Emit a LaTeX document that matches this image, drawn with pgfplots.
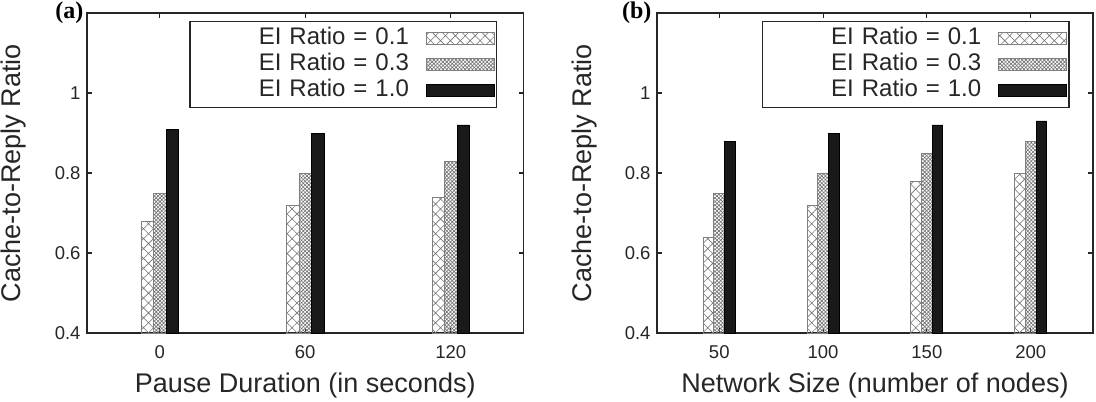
\documentclass[border=0pt]{standalone}
\usepackage{fontspec}
\setmainfont{Liberation Sans}
\newfontfamily\panelfont{Liberation Serif}
\usepackage{pgfplots}
\pgfplotsset{compat=1.18}
\usetikzlibrary{patterns.meta}

\newcommand\tickfont{\fontsize{18.5bp}{22bp}\selectfont}
\newcommand\labfont{\fontsize{27bp}{32bp}\selectfont}
\newcommand\legfont{\fontsize{24bp}{28bp}\selectfont}

\pgfplotsset{
  crpanel/.style={
    ybar=0pt,
    y=400bp, ymin=0.4, ymax=1.2,
    ytick={0.4,0.6,0.8,1}, yticklabels={0.4,0.6,0.8,1},
    xtick=data,
    tick align=inside,
    major tick length=5bp,
    axis line style={line width=1.5bp, black!85},
    every tick/.style={line width=1.1bp, black!85},
    tick label style={font=\tickfont, text=black!85},
    yticklabel style={xshift=-3bp},
    xticklabel style={yshift=-9bp},
    label style={font=\labfont, text=black!85},
    ylabel={Cache-to-Reply Ratio},
    ylabel style={at={(axis description cs:-0.1674,0.5)}, anchor=center},
    xlabel style={at={(axis description cs:0.5,-0.164)}, anchor=center},
    legend cell align=right,
    legend plot pos=right,
    legend style={font=\legfont, text=black!85, draw=black!85, line width=1.4bp,
      inner xsep=2bp, inner ysep=6bp, column sep=17bp, row sep=4bp,
      nodes={inner sep=0bp, text height=17bp, text depth=5bp, text width=217bp, align=right}},
    clip=false,
  },
  barkey/.style={legend image code/.code={\draw[##1] (0bp,-6bp) rectangle (68bp,6bp);}},
  ei01/.style={draw=gray, line width=0.9bp, fill=white,
    pattern={Hatch[angle=45,distance=7bp,line width=0.6bp]}, pattern color=gray!90!black, barkey},
  ei03/.style={draw=gray, line width=0.9bp, fill=white,
    pattern={Hatch[angle=45,distance=2.6bp,line width=0.65bp]}, pattern color=gray!90!black, barkey},
  ei10/.style={draw=black, line width=0.9bp, fill=black!90, barkey},
}

\begin{document}
\begin{tikzpicture}
\path[use as bounding box] (0bp,0bp) rectangle (1096bp,-402bp);

% (a) effect of pause duration
\begin{axis}[crpanel,
  at={(87bp,-333bp)}, anchor=south west,
  x=145.5bp, xmin=-0.5, xmax=2.5,
  bar width=12.5bp,
  xticklabels={0,60,120},
  xlabel={Pause Duration (in seconds)},
  legend style={at={(0.9404,0.975)}, anchor=north east},
]
\addplot[ei01] coordinates {(0,0.68) (1,0.72) (2,0.74)};
\addplot[ei03] coordinates {(0,0.75) (1,0.80) (2,0.83)};
\addplot[ei10] coordinates {(0,0.91) (1,0.90) (2,0.92)};
\legend{EI Ratio = 0.1, EI Ratio = 0.3, EI Ratio = 1.0}
\node[font=\panelfont\bfseries\fontsize{24bp}{26bp}\selectfont, anchor=east, xshift=0bp]
  at (rel axis cs:0,1) {(a)};
\end{axis}

% (b) effect of network size
\begin{axis}[crpanel,
  at={(657bp,-333bp)}, anchor=south west,
  x=103.8bp, xmin=-0.6, xmax=3.6,
  bar width=10.7bp,
  xticklabels={50,100,150,200},
  xlabel={Network Size (number of nodes)},
  legend style={at={(0.947,0.975)}, anchor=north east},
]
\addplot[ei01] coordinates {(0,0.64) (1,0.72) (2,0.78) (3,0.80)};
\addplot[ei03] coordinates {(0,0.75) (1,0.80) (2,0.85) (3,0.88)};
\addplot[ei10] coordinates {(0,0.88) (1,0.90) (2,0.92) (3,0.93)};
\legend{EI Ratio = 0.1, EI Ratio = 0.3, EI Ratio = 1.0}
\node[font=\panelfont\bfseries\fontsize{24bp}{26bp}\selectfont, anchor=east, xshift=-2bp]
  at (rel axis cs:0,1) {(b)};
\end{axis}
\end{tikzpicture}
\end{document}
